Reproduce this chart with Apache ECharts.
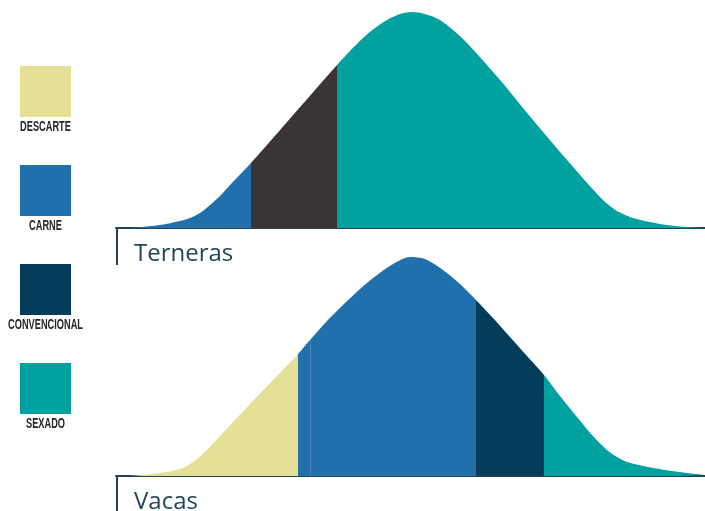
<!DOCTYPE html>
<html>
<head>
<meta charset="utf-8">
<script src="https://cdn.jsdelivr.net/npm/echarts@6/dist/echarts.min.js"></script>
<style>
html,body{margin:0;padding:0;background:#fff;}
#chart{width:705px;height:511px;}
</style>
</head>
<body>
<div id="chart"></div>
<script>
// Legend categories
const legendNames = ['DESCARTE', 'CARNE', 'CONVENCIONAL', 'SEXADO'];
const legendColors = ['#e4e197', '#2170ae', '#033d5a', '#00a19f'];

// Panel titles
const panelNames = ['Terneras', 'Vacas'];

// Terneras curve (x position, height)
const ternerasX = [14, 44, 64, 74, 84, 94, 104, 114, 135, 178, 221, 234, 247, 259, 271, 284, 296, 309, 324, 337, 351, 384, 417, 451, 484, 494, 501, 509, 517, 534, 551, 577, 589];
const ternerasY = [0, 3, 7, 10, 15, 23, 32, 43, 65, 114, 163, 177, 190, 200, 208, 214, 216, 214, 208, 198, 185, 148, 108, 68, 31, 22, 17, 13, 10, 6, 3, 0.5, 0];
// Terneras split points on x: carne | dark | sexado
const ternerasSplits = [135, 221];

// Vacas curve
const vacasX = [14, 44, 64, 77, 89, 104, 134, 159, 182, 194, 211, 227, 244, 261, 277, 294, 309, 327, 344, 360, 377, 394, 411, 428, 444, 461, 476, 491, 501, 511, 537, 564, 589];
const vacasY = [0, 3, 7, 14, 24, 40, 72, 98, 122, 136, 155, 171, 187, 201, 212, 219, 217, 206, 192, 176, 158, 139, 120, 101, 80, 59, 41, 26, 19, 14, 8, 4, 1];
// Vacas split points: descarte | carne | (seam) | carne | convencional | sexado
const vacasSplits = [182, 194, 195, 360, 428];

const chart = echarts.init(document.getElementById('chart'), null, {renderer: 'canvas'});

function pairs(xs, ys) { return xs.map((x, i) => [x, ys[i]]); }

const axisColor = '#24434f';
const xAxisBase = {
  type: 'value', min: 0, max: 589,
  axisLine: {show: true, onZero: false, lineStyle: {color: axisColor, width: 2}},
  axisTick: {show: false}, axisLabel: {show: false}, splitLine: {show: false}
};
const yAxisBase = {type: 'value', min: 0, max: 228, show: false};

const graphics = [];
legendNames.forEach((n, i) => {
  graphics.push({type: 'rect', left: 20, top: 66 + i * 99, shape: {width: 51, height: 51}, style: {fill: legendColors[i]}});
  graphics.push({type: 'text', x: 45.5, y: 127.5 + i * 98.8, scaleX: 0.66, style: {text: n, fill: '#262626', font: 'bold 14px "Liberation Sans", Arial, sans-serif', textAlign: 'center', textVerticalAlign: 'middle'}});
});
[[228, 265], [476, 511]].forEach((seg, i) => {
  graphics.push({type: 'line', shape: {x1: 117, y1: seg[0], x2: 117, y2: seg[1]}, style: {stroke: axisColor, lineWidth: 2}});
  graphics.push({type: 'text', x: 134, y: seg[0] + 38.5, style: {text: panelNames[i], fill: '#1f4655', font: '24px "Open Sans", sans-serif', textAlign: 'left', textVerticalAlign: 'bottom'}});
});

const option = {
  animation: false,
  grid: [
    {left: 116, right: 0, top: 0, height: 228},
    {left: 116, right: 0, top: 248, height: 228}
  ],
  xAxis: [Object.assign({gridIndex: 0}, xAxisBase), Object.assign({gridIndex: 1}, xAxisBase)],
  yAxis: [Object.assign({gridIndex: 0}, yAxisBase), Object.assign({gridIndex: 1}, yAxisBase)],
  visualMap: [
    {type: 'piecewise', show: false, seriesIndex: 0, dimension: 0, pieces: [
      {lt: ternerasSplits[0], color: legendColors[1]},
      {gte: ternerasSplits[0], lt: ternerasSplits[1], color: '#3a3534'},
      {gte: ternerasSplits[1], color: legendColors[3]}
    ]},
    {type: 'piecewise', show: false, seriesIndex: 1, dimension: 0, pieces: [
      {lt: vacasSplits[0], color: legendColors[0]},
      {gte: vacasSplits[0], lt: vacasSplits[1], color: legendColors[1]},
      {gte: vacasSplits[1], lt: vacasSplits[2], color: '#4b86bd'},
      {gte: vacasSplits[2], lt: vacasSplits[3], color: legendColors[1]},
      {gte: vacasSplits[3], lt: vacasSplits[4], color: legendColors[2]},
      {gte: vacasSplits[4], color: legendColors[3]}
    ]}
  ],
  series: [
    {type: 'line', xAxisIndex: 0, yAxisIndex: 0, data: pairs(ternerasX, ternerasY), smooth: 0.3, showSymbol: false, lineStyle: {width: 0}, areaStyle: {opacity: 1}, z: 1},
    {type: 'line', xAxisIndex: 1, yAxisIndex: 1, data: pairs(vacasX, vacasY), smooth: 0.3, showSymbol: false, lineStyle: {width: 0}, areaStyle: {opacity: 1}, z: 1}
  ],
  graphic: graphics
};
chart.setOption(option);
</script>
</body>
</html>
